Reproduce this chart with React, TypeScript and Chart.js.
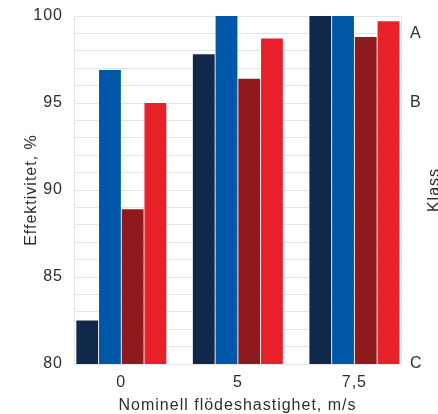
import { useEffect, useRef } from 'react';
import { Chart, registerables } from 'chart.js';

Chart.register(...registerables);

// Categories (nominal flow speed, m/s)
const categories = ['0', '5', '7,5'];

// Series values (efficiency, %)
const seriesNavy = [82.5, 97.8, 100];
const seriesBlue = [96.9, 100, 100];
const seriesDarkRed = [88.9, 96.4, 98.8];
const seriesRed = [95.0, 98.7, 99.7];

// Y axis tick values
const yMin = 80;
const yMax = 100;
const yStep = 1;
const yLabelEvery = 5;

// Class axis (right side)
const classValues = [99, 95, 80];
const classLabels = ['A', 'B', 'C'];

const yTitle = 'Effektivitet, %';
const xTitle = 'Nominell flödeshastighet, m/s';
const classTitle = 'Klass';

const FONT_FAMILY = "'Liberation Sans', Arial, Helvetica, sans-serif";
const TEXT = '#2e2e2e';
const GRID = '#e4e4e4';
const COLORS = ['#10294a', '#0057a8', '#8e1a1e', '#e8202a'];

const allSeries = [seriesNavy, seriesBlue, seriesDarkRed, seriesRed];

const textPlugin = {
  id: 'textTweaks',
  beforeUpdate(chart: any) {
    chart.ctx.letterSpacing = '1px';
  },
  beforeDraw(chart: any) {
    chart.ctx.letterSpacing = '1px';
  },
  afterDraw(chart: any) {
    const ctx = chart.ctx;
    const area = chart.chartArea;
    ctx.save();
    ctx.letterSpacing = '1px';
    ctx.fillStyle = TEXT;
    ctx.font = `16px ${FONT_FAMILY}`;
    ctx.translate(chart.width + 1, (area.top + area.bottom) / 2);
    ctx.rotate(-Math.PI / 2);
    ctx.textAlign = 'center';
    ctx.textBaseline = 'alphabetic';
    ctx.fillText(classTitle, 0, 0);
    ctx.restore();
  },
};

export default function App() {
  const ref = useRef<HTMLCanvasElement>(null);

  useEffect(() => {
    document.body.style.margin = '0';
    const canvas = ref.current;
    if (!canvas) return;

    const font = { family: FONT_FAMILY, size: 16 };

    const chart = new Chart(canvas, {
      type: 'bar',
      data: {
        datasets: allSeries.map((vals, si) => ({
          label: `s${si}`,
          data: vals.map((v, i) => ({ x: i, y: v })),
          backgroundColor: COLORS[si],
          borderWidth: 0,
          barPercentage: 0.96,
          categoryPercentage: 0.78,
          yAxisID: 'y',
        })),
      },
      options: {
        animation: false,
        responsive: false,
        devicePixelRatio: 1,
        layout: { padding: { top: 16, left: 0, right: 0, bottom: 0 } },
        plugins: {
          legend: { display: false },
          tooltip: { enabled: false },
        },
        scales: {
          x: {
            type: 'linear',
            min: -0.406,
            max: 2.4,
            offset: false,
            afterBuildTicks: (s: any) => {
              s.ticks = categories.map((_, i) => ({ value: i }));
            },
            afterFit: (s: any) => {
              s.height = 50;
              s.paddingLeft = 0;
              s.paddingRight = 0;
            },
            ticks: {
              callback: (_v: any, i: number) => categories[i] ?? '',
              color: TEXT,
              font,
              padding: 9,
              maxRotation: 0,
              autoSkip: false,
            },
            grid: { display: false, drawTicks: false },
            border: { display: true, color: GRID },
            title: {
              display: true,
              text: xTitle,
              color: TEXT,
              font: { ...font, lineHeight: 1 },
              padding: { top: 0, bottom: 0 },
            },
          },
          y: {
            type: 'linear',
            position: 'left',
            min: yMin,
            max: yMax,
            afterBuildTicks: (s: any) => {
              const t = [];
              for (let v = yMin; v <= yMax; v += yStep) t.push({ value: v });
              s.ticks = t;
            },
            afterFit: (s: any) => {
              s.width = 74;
              s.paddingTop = 0;
              s.paddingBottom = 0;
            },
            ticks: {
              stepSize: yStep,
              autoSkip: false,
              callback: (v: any) => (Number(v) % yLabelEvery === 0 ? String(v) : ''),
              color: TEXT,
              font,
              padding: 11,
            },
            grid: { color: GRID, drawTicks: false, lineWidth: 1 },
            border: { display: true, color: GRID },
            title: {
              display: true,
              text: yTitle,
              color: TEXT,
              font: { ...font, lineHeight: 1 },
              padding: { top: 24, bottom: 0 },
            },
          },
          y2: {
            type: 'linear',
            position: 'right',
            min: yMin,
            max: yMax,
            afterBuildTicks: (s: any) => {
              s.ticks = classValues.map((v) => ({ value: v }));
            },
            afterFit: (s: any) => {
              s.width = 37;
              s.paddingTop = 0;
              s.paddingBottom = 0;
            },
            ticks: {
              autoSkip: false,
              callback: (_v: any, i: number) => classLabels[i] ?? '',
              color: TEXT,
              font,
              padding: 9,
            },
            grid: { display: false, drawTicks: false },
            border: { display: true, color: GRID },
          },
        },
      } as any,
      plugins: [textPlugin],
    });

    return () => chart.destroy();
  }, []);

  return (
    <div style={{ width: 438, height: 414 }}>
      <canvas ref={ref} width={438} height={414} style={{ display: 'block', width: 438, height: 414 }} />
    </div>
  );
}
